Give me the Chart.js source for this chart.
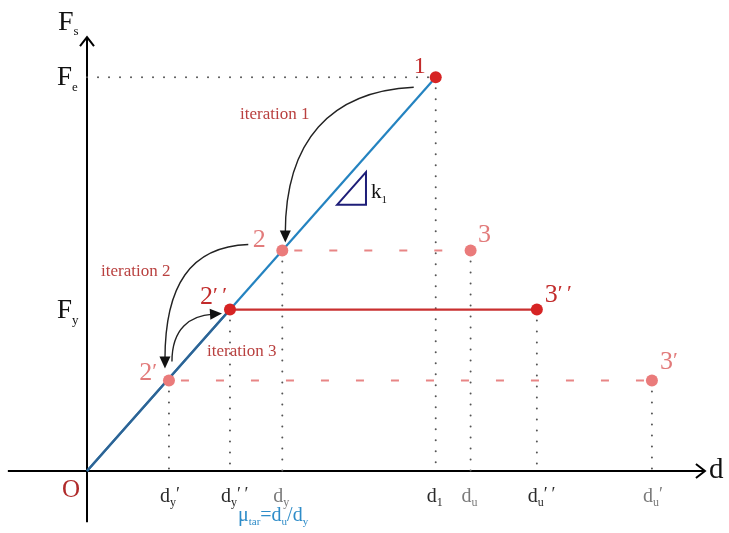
<!DOCTYPE html>
<html>
<head>
<meta charset="utf-8">
<script src="https://cdn.jsdelivr.net/npm/chart.js@4.4.1/dist/chart.umd.min.js"></script>
<style>
  html, body { margin: 0; padding: 0; background: #fff; }
  #wrap { width: 729px; height: 533px; }
</style>
</head>
<body>
<div id="wrap"><canvas id="pushover" width="729" height="533"></canvas></div>
<script>
// iteration points (displacement d, base shear Fs), k1 = 1 in these units
const pointNames = ['1', '2', '3', '2′′', '3′′', '2′', '3′'];
const pointD = [10, 5.6, 11.0, 4.1, 12.9, 2.35, 16.2];
const pointF = [10, 5.6, 5.6, 4.1, 4.1, 2.3, 2.3];

// displacement tick labels: d + subscript + primes
const tickD = [2.35, 4.1, 5.6, 10, 11.0, 12.9, 16.2];
const tickSub = ['y', 'y', 'y', '1', 'u', 'u', 'u'];
const tickPrime = ['′', '′′', '', '', '', '′′', '′'];

// force tick labels
const forceF = [10, 4.1];
const forceSub = ['e', 'y'];

const iterLabels = ['iteration 1', 'iteration 2', 'iteration 3'];

const RED = '#d62424';
const RED_TXT = '#c22b2b';
const PINK = '#ea7b7b';
const PINK_TXT = '#e27b7b';
const ITER_TXT = '#b9403f';
const BLUE = '#2483c0';
const SERIF = '"Liberation Serif", "DejaVu Serif", serif';

const pt = i => ({ x: pointD[i], y: pointF[i] });
const idx = name => pointNames.indexOf(name);
const spaced = s => s.split('').join('\u2009');

// dotted drop lines from every point down to the d axis
const dropLines = pointNames.map((n, i) => ({
    data: [pt(i), { x: pointD[i], y: 0 }],
    borderColor: '#555',
    borderWidth: 2,
    borderDash: [0, 11],
    borderCapStyle: 'round',
    pointRadius: 0,
    order: 5
}));

const datasets = [
    // elastic branch with stiffness k1
    { data: [{ x: 0, y: 0 }, pt(idx('1'))], borderColor: BLUE, borderWidth: 2.2, pointRadius: 0, order: 3 },
    { data: [{ x: 0, y: 0 }, pt(idx('2′′'))], borderColor: '#2d6394', borderWidth: 2.4, pointRadius: 0, order: 2 },
    // converged bilinear plateau
    { data: [pt(idx('2′′')), pt(idx('3′′'))], borderColor: '#c93030', borderWidth: 2.2, pointRadius: 0, order: 2 },
    // trial plateaus
    { data: [pt(idx('2')), pt(idx('3'))], borderColor: '#e88585', borderWidth: 2, borderDash: [8, 27], borderDashOffset: -12, pointRadius: 0, order: 4 },
    { data: [pt(idx('2′')), pt(idx('3′'))], borderColor: '#e88585', borderWidth: 2, borderDash: [8, 27], borderDashOffset: -12, pointRadius: 0, order: 4 },
    // Fe guide line
    { data: [{ x: 0, y: pointF[0] }, pt(0)], borderColor: '#555', borderWidth: 2, borderDash: [0, 11], borderCapStyle: 'round', pointRadius: 0, order: 5 },
    ...dropLines,
    // markers
    { data: ['1', '2′′', '3′′'].map(n => pt(idx(n))), showLine: false, pointRadius: 6, backgroundColor: RED, borderColor: RED, borderWidth: 0, order: 0 },
    { data: ['2', '3', '2′', '3′'].map(n => pt(idx(n))), showLine: false, pointRadius: 6, backgroundColor: PINK, borderColor: PINK, borderWidth: 0, order: 0 }
];
datasets.forEach(ds => { if (ds.showLine === undefined) ds.showLine = true; });

// text made of pieces: [text, size, color, dy]
const drawRich = (ctx, parts, x, y, align) => {
    ctx.textBaseline = 'alphabetic';
    ctx.textAlign = 'left';
    let w = 0;
    parts.forEach(p => { ctx.font = `${p[1]}px ${SERIF}`; w += ctx.measureText(p[0]).width; });
    let cx = align === 'center' ? x - w / 2 : align === 'right' ? x - w : x;
    parts.forEach(p => {
        ctx.font = `${p[1]}px ${SERIF}`;
        ctx.fillStyle = p[2];
        ctx.fillText(p[0], cx, y + (p[3] || 0));
        cx += ctx.measureText(p[0]).width;
    });
};

const arrowHead = (ctx, fx, fy, tx, ty, len, half) => {
    const a = Math.atan2(ty - fy, tx - fx);
    ctx.beginPath();
    ctx.moveTo(tx, ty);
    ctx.lineTo(tx - len * Math.cos(a) + half * Math.sin(a), ty - len * Math.sin(a) - half * Math.cos(a));
    ctx.lineTo(tx - len * Math.cos(a) - half * Math.sin(a), ty - len * Math.sin(a) + half * Math.cos(a));
    ctx.closePath();
    ctx.fill();
};

const curvedArrow = (ctx, p0, c1, c2, tip) => {
    const a = Math.atan2(tip[1] - c2[1], tip[0] - c2[0]);
    const ex = tip[0] - 9 * Math.cos(a), ey = tip[1] - 9 * Math.sin(a);
    ctx.strokeStyle = '#222';
    ctx.fillStyle = '#111';
    ctx.lineWidth = 1.4;
    ctx.beginPath();
    ctx.moveTo(p0[0], p0[1]);
    ctx.bezierCurveTo(c1[0], c1[1], c2[0], c2[1], ex, ey);
    ctx.stroke();
    arrowHead(ctx, c2[0], c2[1], tip[0], tip[1], 12, 5.5);
};

const axesPlugin = {
    id: 'axes',
    beforeDatasetsDraw(chart) {
        const { ctx, scales: { x, y } } = chart;
        const x0 = x.getPixelForValue(0), y0 = y.getPixelForValue(0);
        ctx.save();
        ctx.strokeStyle = '#000';
        ctx.fillStyle = '#000';
        ctx.lineWidth = 2;
        // d axis
        const xEnd = x.getPixelForValue(17.72);
        ctx.beginPath();
        ctx.moveTo(x.getPixelForValue(-2.27), y0);
        ctx.lineTo(xEnd, y0);
        ctx.stroke();
        ctx.beginPath();
        ctx.moveTo(xEnd - 9, y0 - 7); ctx.lineTo(xEnd, y0); ctx.lineTo(xEnd - 9, y0 + 7);
        ctx.stroke();
        // Fs axis
        const yEnd = y.getPixelForValue(11.02);
        ctx.beginPath();
        ctx.moveTo(x0, y.getPixelForValue(-1.3));
        ctx.lineTo(x0, yEnd);
        ctx.stroke();
        ctx.beginPath();
        ctx.moveTo(x0 - 7, yEnd + 9); ctx.lineTo(x0, yEnd); ctx.lineTo(x0 + 7, yEnd + 9);
        ctx.stroke();
        ctx.restore();
    },
    afterDraw(chart) {
        const { ctx, scales: { x, y } } = chart;
        const px = i => [x.getPixelForValue(pointD[i]), y.getPixelForValue(pointF[i])];
        const x0 = x.getPixelForValue(0), y0 = y.getPixelForValue(0);
        ctx.save();

        // axis names
        drawRich(ctx, [['F', 28, '#111'], ['s', 13, '#111', 5]], x0 - 29, 30, 'left');
        drawRich(ctx, [['d', 29, '#111']], x.getPixelForValue(17.72) + 4, y0 + 7, 'left');
        drawRich(ctx, [['O', 25, '#b02a2a']], x0 - 25, y0 + 26, 'left');

        // force ticks
        forceF.forEach((f, i) => {
            drawRich(ctx, [['F', 27, '#111'], [forceSub[i], 13, '#111', 6]], x0 - 30, y.getPixelForValue(f) + 8, 'left');
        });

        // displacement ticks, the trial values printed lighter
        tickD.forEach((d, i) => {
            const light = (tickPrime[i] === '' && tickSub[i] !== '1') || (tickSub[i] === 'u' && tickPrime[i] === '′');
            const c = light ? '#7a7a7a' : '#2a2a2a';
            ctx.font = `20px ${SERIF}`;
            const wd = ctx.measureText('d').width;
            ctx.font = `12px ${SERIF}`;
            const ws = ctx.measureText(tickSub[i]).width;
            const left = x.getPixelForValue(d) - (wd + ws) / 2 - 1;
            drawRich(ctx, [['d', 20, c], [tickSub[i], 12, c, 4], [spaced(tickPrime[i]), 18, c, -2]], left, y0 + 31, 'left');
        });

        // ductility definition
        const B = '#2e8cc8';
        drawRich(ctx, [['μ', 20, B], ['tar', 11, B, 4], ['=d', 20, B], ['u', 11, B, 4], ['/d', 20, B], ['y', 11, B, 4]], 238, y0 + 50, 'left');

        // point labels
        const main = ['1', '2′′', '3′′'];
        const place = {
            '1': [-16, -4, 'center', 24],
            '2': [-23, -4, 'center', 26],
            '3': [14, -9, 'center', 26],
            '2′′': [-3, -6, 'right', 26],
            '3′′': [8, -8, 'left', 26],
            '2′': [-12, 0, 'right', 26],
            '3′': [8, -11, 'left', 26]
        };
        pointNames.forEach((n, i) => {
            const [cx, cy] = px(i);
            const p = place[n];
            const col = main.includes(n) ? RED_TXT : PINK_TXT;
            const num = n.charAt(0), primes = spaced(n.slice(1));
            drawRich(ctx, [[num, p[3], col], [primes, p[3] - 4, col, -2]], cx + p[0], cy + p[1], p[2]);
        });

        // iteration arrows
        const [p1x, p1y] = px(idx('1'));
        const [p2x, p2y] = px(idx('2'));
        const [qx, qy] = px(idx('2′'));
        const [rx, ry] = px(idx('2′′'));
        curvedArrow(ctx, [p1x - 22, p1y + 10], [p1x - 105, p1y + 14], [p2x + 3, p2y - 110], [p2x + 3, p2y - 8]);
        curvedArrow(ctx, [p2x - 34, p2y - 6], [p2x - 92, p2y - 4], [qx - 4, qy - 95], [qx - 4, qy - 12]);
        curvedArrow(ctx, [qx + 3, qy - 19], [qx + 3, qy - 52], [rx - 40, ry + 6], [rx - 8, ry + 4]);

        drawRich(ctx, [[iterLabels[0], 17, ITER_TXT]], 240, 119, 'left');
        drawRich(ctx, [[iterLabels[1], 17, ITER_TXT]], 101, 276, 'left');
        drawRich(ctx, [[iterLabels[2], 17, ITER_TXT]], 207, 356, 'left');

        // slope triangle k1, hypotenuse parallel to the elastic branch
        const tx0 = x.getPixelForValue(7.17), tx1 = x.getPixelForValue(8.0);
        const ty0 = y.getPixelForValue(6.76), ty1 = y.getPixelForValue(7.59);
        ctx.strokeStyle = '#1e1e78';
        ctx.lineWidth = 2;
        ctx.beginPath();
        ctx.moveTo(tx0, ty0); ctx.lineTo(tx1, ty1); ctx.lineTo(tx1, ty0); ctx.closePath();
        ctx.stroke();
        drawRich(ctx, [['k', 21, '#111'], ['1', 11, '#111', 5]], tx1 + 5, ty0 - 7, 'left');

        ctx.restore();
    }
};

new Chart(document.getElementById('pushover'), {
    type: 'scatter',
    data: { datasets: datasets },
    options: {
        responsive: false,
        animation: false,
        layout: { padding: 0, autoPadding: false },
        plugins: { legend: { display: false }, tooltip: { enabled: false } },
        elements: { line: { tension: 0 } },
        scales: {
            x: { type: 'linear', display: false, min: -2.495, max: 18.41 },
            y: { type: 'linear', display: false, min: -1.575, max: 11.963 }
        }
    },
    plugins: [axesPlugin]
});
</script>
</body>
</html>
